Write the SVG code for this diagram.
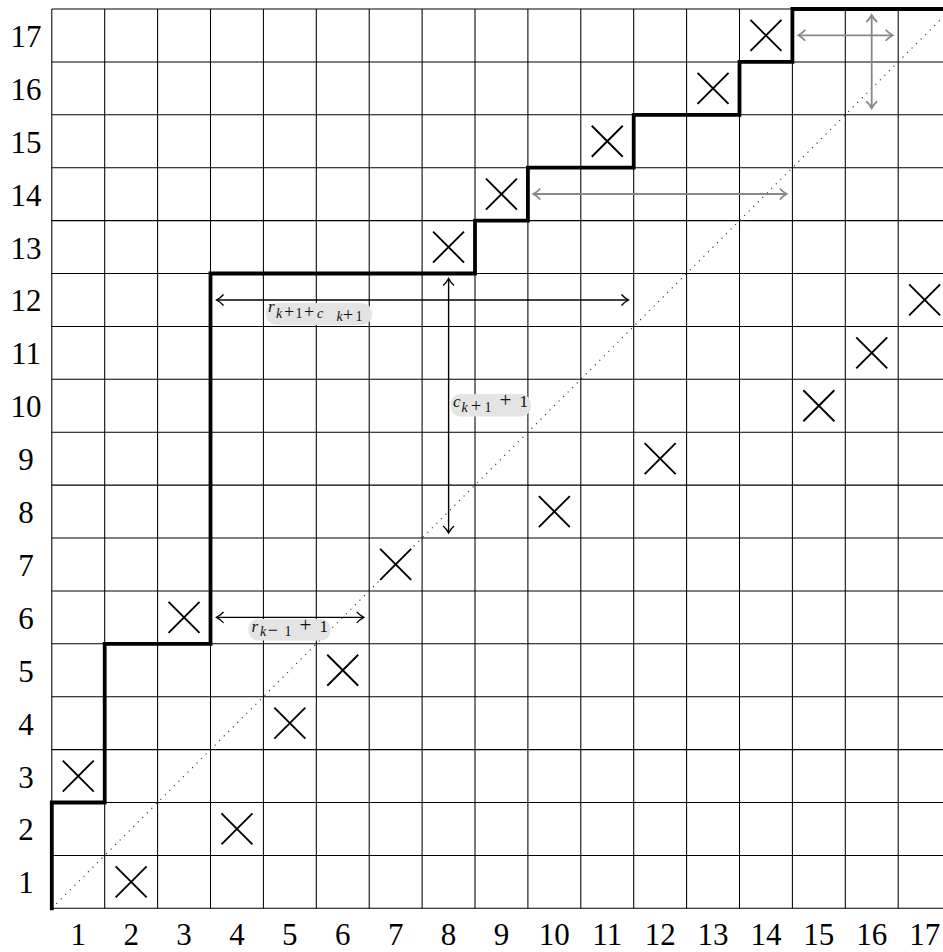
<svg xmlns="http://www.w3.org/2000/svg" xmlns:xlink="http://www.w3.org/1999/xlink" width="943" height="952" viewBox="0 0 943 952">
<style>
.grid{fill:none;stroke:#000;stroke-width:1.05}
.stair{fill:none;stroke:#000;stroke-width:3.8;stroke-linecap:square;stroke-linejoin:miter}
.diag{fill:none;stroke:#333;stroke-width:1.1;stroke-dasharray:1.2 5.2}
.xm{fill:none;stroke:#000;stroke-width:1.9}
.num{font-family:"Liberation Serif","Times New Roman",serif;font-size:31px;fill:#000;text-anchor:middle}
.ab{fill:none;stroke:#000;stroke-width:1.4}
.ag{fill:none;stroke:#888;stroke-width:1.8}
.box{fill:#e4e4e4}
.lt{font-family:"Liberation Serif","Times New Roman",serif;fill:#111}
.m{font-size:17px}
.s{font-size:14px}
.p{font-size:18px}
.pm{font-size:21px}
.i{font-style:italic}
</style>
<defs>
<marker id="hb" viewBox="-9 -7 11 14" markerWidth="11" markerHeight="14" refX="0" refY="0" orient="auto-start-reverse" markerUnits="userSpaceOnUse">
<path d="M-7,-5.5 C-5,-3 -1.5,-0.8 0,0 C-1.5,0.8 -5,3 -7,5.5" fill="none" stroke="#000" stroke-width="1.4"/>
</marker>
<marker id="hg" viewBox="-9 -7 11 14" markerWidth="11" markerHeight="14" refX="0" refY="0" orient="auto-start-reverse" markerUnits="userSpaceOnUse">
<path d="M-7,-5.5 C-5,-3 -1.5,-0.8 0,0 C-1.5,0.8 -5,3 -7,5.5" fill="none" stroke="#888" stroke-width="1.8"/>
</marker>
<path id="x" class="xm" d="M-15.5,-15.5 L15.5,15.5 M15.5,-15.5 L-15.5,15.5"/>
</defs>
<rect width="943" height="952" fill="#fff"/>
<g id="grid">
<path class="grid" d="M51.8,9 V908.3 M104.7,9 V908.3 M157.6,9 V908.3 M210.5,9 V908.3 M263.4,9 V908.3 M316.3,9 V908.3 M369.2,9 V908.3 M422.1,9 V908.3 M475,9 V908.3 M527.9,9 V908.3 M580.8,9 V908.3 M633.7,9 V908.3 M686.6,9 V908.3 M739.5,9 V908.3 M792.4,9 V908.3 M845.3,9 V908.3 M898.2,9 V908.3 M951.1,9 V908.3"/>
<path class="grid" d="M51.8,908.3 H951.1 M51.8,855.4 H951.1 M51.8,802.5 H951.1 M51.8,749.6 H951.1 M51.8,696.7 H951.1 M51.8,643.8 H951.1 M51.8,590.9 H951.1 M51.8,538 H951.1 M51.8,485.1 H951.1 M51.8,432.2 H951.1 M51.8,379.3 H951.1 M51.8,326.4 H951.1 M51.8,273.5 H951.1 M51.8,220.6 H951.1 M51.8,167.7 H951.1 M51.8,114.8 H951.1 M51.8,61.9 H951.1 M51.8,9 H951.1"/>
</g>
<g id="row-labels">
<text class="num" x="26" y="893.3">1</text>
<text class="num" x="26" y="840.4">2</text>
<text class="num" x="26" y="787.5">3</text>
<text class="num" x="26" y="734.6">4</text>
<text class="num" x="26" y="681.7">5</text>
<text class="num" x="26" y="628.8">6</text>
<text class="num" x="26" y="575.9">7</text>
<text class="num" x="26" y="523">8</text>
<text class="num" x="26" y="470.1">9</text>
<text class="num" x="26" y="417.2">10</text>
<text class="num" x="26" y="364.3">11</text>
<text class="num" x="26" y="311.4">12</text>
<text class="num" x="26" y="258.5">13</text>
<text class="num" x="26" y="205.6">14</text>
<text class="num" x="26" y="152.7">15</text>
<text class="num" x="26" y="99.8">16</text>
<text class="num" x="26" y="46.9">17</text>
</g>
<g id="col-labels">
<text class="num" x="78.25" y="945">1</text>
<text class="num" x="131.15" y="945">2</text>
<text class="num" x="184.05" y="945">3</text>
<text class="num" x="236.95" y="945">4</text>
<text class="num" x="289.85" y="945">5</text>
<text class="num" x="342.75" y="945">6</text>
<text class="num" x="395.65" y="945">7</text>
<text class="num" x="448.55" y="945">8</text>
<text class="num" x="501.45" y="945">9</text>
<text class="num" x="554.35" y="945">10</text>
<text class="num" x="607.25" y="945">11</text>
<text class="num" x="660.15" y="945">12</text>
<text class="num" x="713.05" y="945">13</text>
<text class="num" x="765.95" y="945">14</text>
<text class="num" x="818.85" y="945">15</text>
<text class="num" x="871.75" y="945">16</text>
<text class="num" x="924.65" y="945">17</text>
</g>
<g id="diagonal">
<path class="diag" d="M51.8,908.3 L960,0.1"/>
</g>
<g id="marks">
<g id="x-2-1"><use xlink:href="#x" x="131.15" y="881.85"/></g>
<g id="x-4-2"><use xlink:href="#x" x="236.95" y="828.95"/></g>
<g id="x-1-3"><use xlink:href="#x" x="78.25" y="776.05"/></g>
<g id="x-5-4"><use xlink:href="#x" x="289.85" y="723.15"/></g>
<g id="x-6-5"><use xlink:href="#x" x="342.75" y="670.25"/></g>
<g id="x-3-6"><use xlink:href="#x" x="184.05" y="617.35"/></g>
<g id="x-7-7"><use xlink:href="#x" x="395.65" y="564.45"/></g>
<g id="x-10-8"><use xlink:href="#x" x="554.35" y="511.55"/></g>
<g id="x-12-9"><use xlink:href="#x" x="660.15" y="458.65"/></g>
<g id="x-15-10"><use xlink:href="#x" x="818.85" y="405.75"/></g>
<g id="x-16-11"><use xlink:href="#x" x="871.75" y="352.85"/></g>
<g id="x-17-12"><use xlink:href="#x" x="924.65" y="299.95"/></g>
<g id="x-8-13"><use xlink:href="#x" x="448.55" y="247.05"/></g>
<g id="x-9-14"><use xlink:href="#x" x="501.45" y="194.15"/></g>
<g id="x-11-15"><use xlink:href="#x" x="607.25" y="141.25"/></g>
<g id="x-13-16"><use xlink:href="#x" x="713.05" y="88.35"/></g>
<g id="x-14-17"><use xlink:href="#x" x="765.95" y="35.45"/></g>
</g>
<g id="staircase">
<path class="stair" d="M51.8,908.3 V802.5 H104.7 V643.8 H210.5 V273.5 H475 V220.6 H527.9 V167.7 H633.7 V114.8 H739.5 V61.9 H792.4 V9 H960"/>
</g>
<g id="connectors">
<line class="ab" x1="216.5" y1="300" x2="628.5" y2="300" marker-start="url(#hb)" marker-end="url(#hb)"/>
<line class="ab" x1="448.6" y1="278.5" x2="448.6" y2="533" marker-start="url(#hb)" marker-end="url(#hb)"/>
<line class="ab" x1="216.5" y1="617.4" x2="363.8" y2="617.4" marker-start="url(#hb)" marker-end="url(#hb)"/>
<line class="ag" x1="533.3" y1="194" x2="786.8" y2="194" marker-start="url(#hg)" marker-end="url(#hg)"/>
<line class="ag" x1="798.3" y1="35.3" x2="892.7" y2="35.3" marker-start="url(#hg)" marker-end="url(#hg)"/>
<line class="ag" x1="871.7" y1="15" x2="871.7" y2="108.3" marker-start="url(#hg)" marker-end="url(#hg)"/>
</g>
<g id="label-r-k-plus-1">
<rect class="box" x="266" y="303" width="106" height="22" rx="10"/>
<text class="lt m i" x="268" y="311.5">r</text>
<text class="lt s" y="317.8"><tspan class="i" x="276">k</tspan><tspan class="p" x="284">+</tspan><tspan x="295.5">1</tspan><tspan class="p" x="304">+</tspan><tspan class="i" x="317">c</tspan></text>
<text class="lt s" y="320.5"><tspan class="i" x="336.5">k</tspan><tspan class="p" x="343">+</tspan><tspan x="355.5">1</tspan></text>
</g>
<g id="label-c-k-plus-1">
<rect class="box" x="450.5" y="394" width="80.5" height="22.5" rx="10"/>
<text class="lt m i" x="453" y="406.5">c</text>
<text class="lt s" y="411.7"><tspan class="i" x="461.5">k</tspan><tspan class="p" x="471">+</tspan><tspan x="484.5">1</tspan></text>
<text class="lt m" y="406.8"><tspan class="pm" x="499.5">+</tspan><tspan x="519.5">1</tspan></text>
</g>
<g id="label-r-k-minus-1">
<rect class="box" x="248.3" y="619" width="82.5" height="21.5" rx="10"/>
<text class="lt m i" x="251.5" y="632">r</text>
<text class="lt s" y="635.8"><tspan class="i" x="260">k</tspan><tspan class="p" x="267.8">−</tspan><tspan x="284.5">1</tspan></text>
<text class="lt m" y="632.3"><tspan class="pm" x="299.5">+</tspan><tspan x="319.5">1</tspan></text>
</g>
</svg>
